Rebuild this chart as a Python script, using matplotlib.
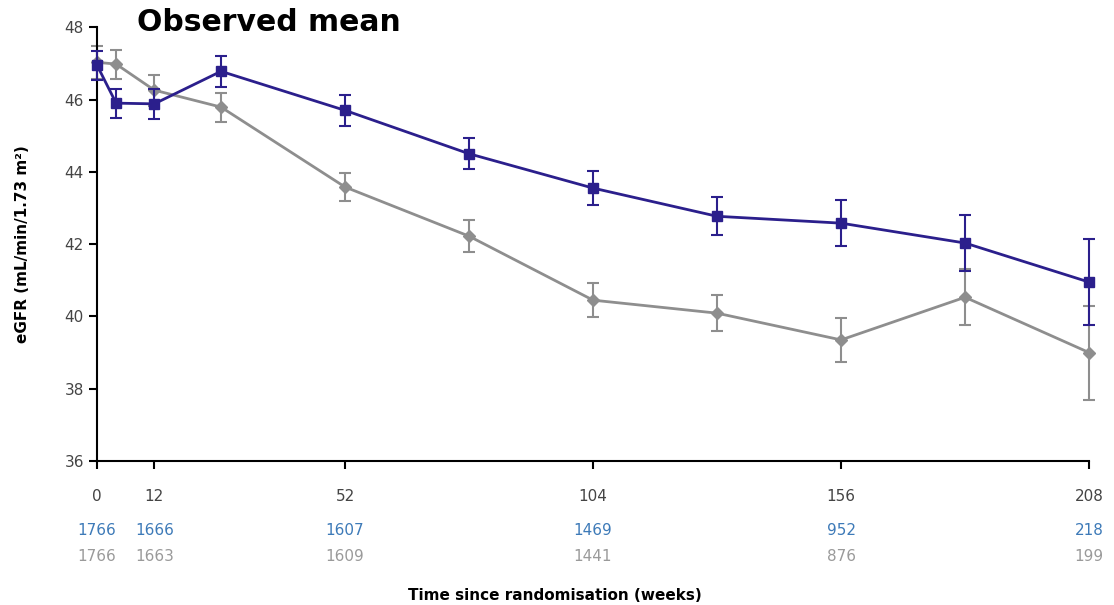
import matplotlib.pyplot as plt
import matplotlib.transforms as mtransforms

weeks = [0, 4, 12, 26, 52, 78, 104, 130, 156, 182, 208]
blue_mean = [46.95, 45.9, 45.88, 46.78, 45.7, 44.5, 43.55, 42.77, 42.58, 42.03, 40.95]
blue_err = [0.4, 0.4, 0.42, 0.43, 0.43, 0.43, 0.48, 0.53, 0.63, 0.77, 1.2]
gray_mean = [47.03, 46.98, 46.26, 45.79, 43.58, 42.22, 40.45, 40.09, 39.35, 40.53, 39.0]
gray_err = [0.45, 0.4, 0.43, 0.4, 0.4, 0.45, 0.47, 0.5, 0.61, 0.77, 1.3]

tick_weeks = [0, 12, 52, 104, 156, 208]
n_blue = ['1766', '1666', '1607', '1469', '952', '218']
n_gray = ['1766', '1663', '1609', '1441', '876', '199']

blue = '#2b1f8c'
gray = '#8e8e8e'

fig = plt.figure(figsize=(11.14, 6.05), dpi=100)
ax = fig.add_axes([0.0871, 0.238, 0.8905, 0.717])

ax.errorbar(weeks, gray_mean, yerr=gray_err, color=gray, lw=2, marker='D', ms=6,
            ecolor=gray, elinewidth=1.5, capsize=4, capthick=1.5, clip_on=False, zorder=2)
ax.errorbar(weeks, blue_mean, yerr=blue_err, color=blue, lw=2, marker='s', ms=7,
            ecolor=blue, elinewidth=1.5, capsize=4, capthick=1.5, clip_on=False, zorder=3)

ax.set_xlim(0, 208)
ax.set_ylim(36, 48)
ax.set_yticks(range(36, 49, 2))
ax.set_xticks(tick_weeks)
ax.spines['top'].set_visible(False)
ax.spines['right'].set_visible(False)
ax.spines['left'].set_linewidth(1.5)
ax.spines['bottom'].set_linewidth(1.5)
ax.tick_params(axis='both', direction='out', length=6, width=1.5, labelsize=11,
               labelcolor='#444444')
ax.tick_params(axis='x', pad=14)

ax.set_ylabel('eGFR (mL/min/1.73 m²)', fontsize=11, fontweight='bold', labelpad=25)

trans = mtransforms.blended_transform_factory(ax.transData, ax.transAxes)
for w, nb, ng in zip(tick_weeks, n_blue, n_gray):
    ax.text(w, -0.161, nb, transform=trans, ha='center', va='center',
            fontsize=11, color='#3d7ab8')
    ax.text(w, -0.221, ng, transform=trans, ha='center', va='center',
            fontsize=11, color='#9a9a9a')

ax.text(0.462, -0.309, 'Time since randomisation (weeks)', transform=ax.transAxes,
        ha='center', va='center', fontsize=11, fontweight='bold')

fig.text(0.123, 0.963, 'Observed mean', fontsize=21.5, fontweight='bold',
         ha='left', va='center')

fig.savefig('out.png', dpi=100)
